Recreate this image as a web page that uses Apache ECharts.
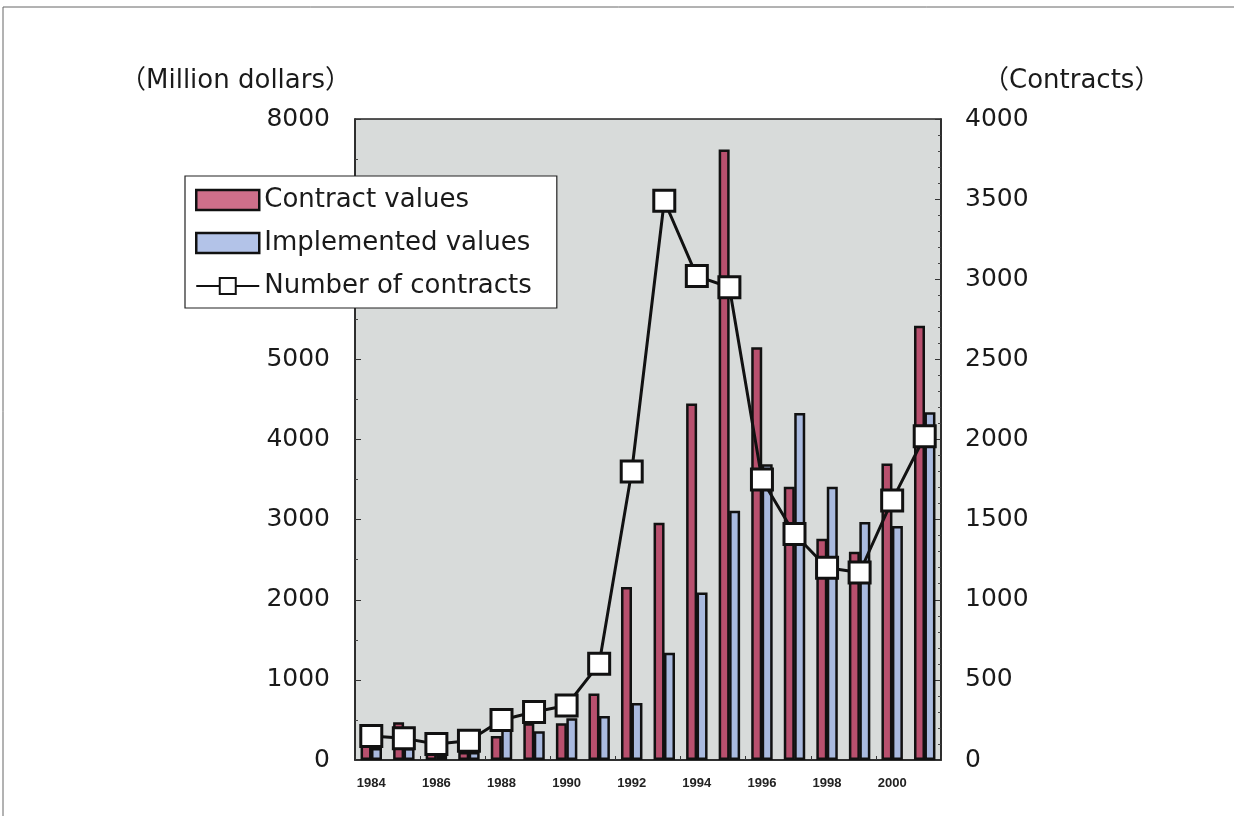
<!DOCTYPE html>
<html>
<head>
<meta charset="utf-8">
<script src="https://cdn.jsdelivr.net/npm/echarts@6/dist/echarts.min.js"></script>
<style>
  html, body { margin: 0; padding: 0; background: #ffffff; }
  #chart { width: 1234px; height: 816px; }
</style>
</head>
<body>
<div id="chart"></div>
<script>
// Years on the category axis
const years = ['1984','1985','1986','1987','1988','1989','1990','1991','1992',
               '1993','1994','1995','1996','1997','1998','1999','2000','2001'];

// Contract values (million dollars)
const contractValues = [180, 470, 80, 100, 300, 460, 460, 830, 2160,
                        2960, 4450, 7620, 5150, 3410, 2760, 2600, 3700, 5420];

// Implemented values (million dollars)
const implementedValues = [150, 150, 60, 100, 420, 360, 520, 550, 710,
                           1340, 2090, 3110, 3690, 4330, 3410, 2970, 2920, 4340];

// Number of contracts
const contractCounts = [150, 135, 100, 120, 250, 300, 340, 600, 1800,
                        3490, 3020, 2950, 1750, 1410, 1200, 1170, 1620, 2020];

// Axis ticks
const leftTicks = { min: 0, max: 8000, interval: 1000 };
const rightTicks = { min: 0, max: 4000, interval: 500 };

const textFont = '"DejaVu Sans", "Noto Sans CJK JP", sans-serif';
const plain = v => String(v);

const chart = echarts.init(document.getElementById('chart'), null, { renderer: 'canvas' });

chart.setOption({
  animation: false,
  backgroundColor: '#ffffff',
  grid: {
    left: 355, right: 293, top: 119, bottom: 56,
    show: true,
    backgroundColor: '#d8dbda',
    borderColor: '#222',
    borderWidth: 1.5
  },
  legend: {
    orient: 'vertical',
    left: 185, top: 176,
    padding: [11, 25, 9, 10],
    itemWidth: 63, itemHeight: 20, itemGap: 17,
    backgroundColor: '#ffffff',
    borderColor: '#222', borderWidth: 1.2,
    textStyle: { fontFamily: textFont, fontSize: 26, color: '#1a1a1a' },
    data: [
      { name: 'Contract values', icon: 'rect', itemStyle: { color: '#cf6f8a', borderColor: '#111', borderWidth: 2.5 } },
      { name: 'Implemented values', icon: 'rect', itemStyle: { color: '#b3c3e8', borderColor: '#111', borderWidth: 2.5 } },
      { name: 'Number of contracts' }
    ],
    z: 10
  },
  xAxis: {
    type: 'category',
    data: years,
    axisLine: { show: true, lineStyle: { color: '#222', width: 1.5 } },
    axisTick: { show: true, inside: true, length: 4, lineStyle: { color: '#333' } },
    axisLabel: {
      interval: 1,
      margin: 17,
      fontFamily: '"Liberation Sans Narrow", "Liberation Sans", Arial, sans-serif',
      fontSize: 13,
      fontWeight: 'bold',
      color: '#222'
    },
    splitLine: { show: false }
  },
  yAxis: [
    {
      type: 'value',
      min: leftTicks.min, max: leftTicks.max, interval: leftTicks.interval,
      position: 'left',
      axisLine: { show: true, lineStyle: { color: '#222', width: 1.5 } },
      axisTick: { show: true, inside: true, length: 6, lineStyle: { color: '#333' } },
      minorTick: { show: true, splitNumber: 2, length: 3, lineStyle: { color: '#444' } },
      axisLabel: { margin: 25, fontFamily: textFont, fontSize: 25, color: '#1a1a1a', formatter: plain },
      splitLine: { show: false }
    },
    {
      type: 'value',
      min: rightTicks.min, max: rightTicks.max, interval: rightTicks.interval,
      position: 'right',
      axisLine: { show: true, lineStyle: { color: '#222', width: 1.5 } },
      axisTick: { show: true, inside: true, length: 6, lineStyle: { color: '#333' } },
      minorTick: { show: true, splitNumber: 5, length: 3, lineStyle: { color: '#444' } },
      axisLabel: { margin: 24, fontFamily: textFont, fontSize: 25, color: '#1a1a1a', formatter: plain },
      splitLine: { show: false }
    }
  ],
  series: [
    {
      name: 'Contract values',
      type: 'bar',
      yAxisIndex: 0,
      data: contractValues,
      barWidth: 11,
      barGap: '-5%',
      itemStyle: { color: '#b8506e', borderColor: '#111', borderWidth: 2.5 }
    },
    {
      name: 'Implemented values',
      type: 'bar',
      yAxisIndex: 0,
      data: implementedValues,
      barWidth: 11,
      barGap: '-5%',
      itemStyle: { color: '#a9badf', borderColor: '#111', borderWidth: 2.5 }
    },
    {
      name: 'Number of contracts',
      type: 'line',
      yAxisIndex: 1,
      data: contractCounts,
      symbol: 'rect',
      symbolSize: 21,
      lineStyle: { color: '#111', width: 3 },
      itemStyle: { color: '#ffffff', borderColor: '#111', borderWidth: 3 },
      z: 5
    }
  ],
  graphic: [
    {
      type: 'text',
      left: 120, top: 68,
      style: { text: '（Million dollars）', font: '26px ' + textFont, fill: '#1a1a1a' }
    },
    {
      type: 'text',
      left: 983, top: 68,
      style: { text: '（Contracts）', font: '26px ' + textFont, fill: '#1a1a1a' }
    },
    {
      type: 'polyline',
      shape: { points: [[3, 816], [3, 7], [1234, 7]] },
      style: { stroke: '#666', lineWidth: 1, fill: null }
    }
  ]
});
</script>
</body>
</html>
